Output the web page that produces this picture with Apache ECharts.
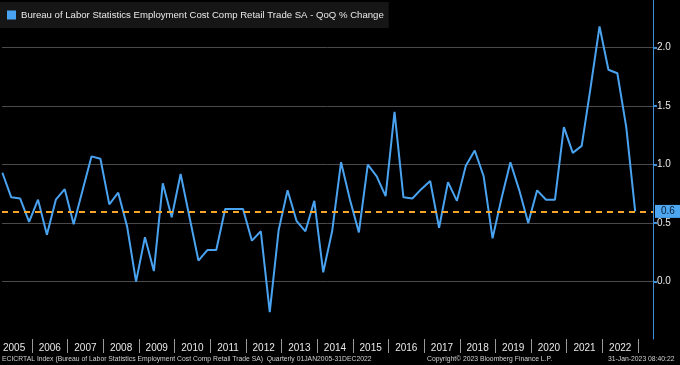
<!DOCTYPE html>
<html><head><meta charset="utf-8">
<script src="https://cdn.jsdelivr.net/npm/echarts@6/dist/echarts.min.js"></script>
<style>html,body{margin:0;padding:0;background:#000}#c{width:680px;height:365px}</style>
</head><body><div id="c"></div>
<script>
const years = [2005,2006,2007,2008,2009,2010,2011,2012,2013,2014,2015,2016,2017,2018,2019,2020,2021,2022];
// quarterly QoQ % change, Q1..Q4 per year
const values = [
  0.93, 0.72, 0.71, 0.51,
  0.70, 0.40, 0.70, 0.79,
  0.49, 0.78, 1.07, 1.05,
  0.66, 0.76, 0.47, 0.00,
  0.38, 0.09, 0.84, 0.55,
  0.92, 0.55, 0.18, 0.27,
  0.27, 0.62, 0.62, 0.62,
  0.35, 0.43, -0.26, 0.44,
  0.78, 0.52, 0.43, 0.69,
  0.08, 0.43, 1.02, 0.70,
  0.42, 1.00, 0.90, 0.73,
  1.45, 0.72, 0.71, 0.79,
  0.86, 0.46, 0.85, 0.69,
  0.99, 1.12, 0.90, 0.37,
  0.71, 1.02, 0.78, 0.50,
  0.78, 0.70, 0.70, 1.32,
  1.10, 1.16, 1.66, 2.18,
  1.81, 1.78, 1.32, 0.60
];
const yTickValues = [0.0, 0.5, 1.0, 1.5, 2.0];
const lastValue = 0.6;
const seriesName = 'Bureau of Labor Statistics Employment Cost Comp Retail Trade SA - QoQ % Change';

const FONT = '"Liberation Sans",Arial,sans-serif';
const points = values.map((v, i) => [years[Math.floor(i / 4)] + (i % 4) * 0.25 + 0.17, v]);
const yearBoundaries = years.map(y => y + 1);
const yearLabelPos = years.map(y => y + 0.5);

const chart = echarts.init(document.getElementById('c'));
chart.setOption({
  backgroundColor: '#000',
  animation: false,
  grid: {left: 0, right: 27, top: 0, bottom: 26, containLabel: false},
  legend: {
    show: true, left: 0, top: 2, data: [seriesName], icon: 'rect',
    itemWidth: 9, itemHeight: 9, backgroundColor: '#161616',
    padding: [8, 5, 8, 7],
    textStyle: {color: '#e8e8e8', fontFamily: FONT, fontSize: 9.6}
  },
  xAxis: {
    type: 'value', min: 2005.16, max: 2023.42,
    axisLine: {show: false, onZero: false}, splitLine: {show: false},
    axisTick: {show: true, customValues: yearBoundaries, length: 14, lineStyle: {color: '#9a9a9a'}},
    axisLabel: {customValues: yearLabelPos, formatter: v => String(Math.floor(v)),
      color: '#e8e8e8', fontFamily: FONT, fontSize: 10, margin: 4}
  },
  yAxis: {
    type: 'value', position: 'right', min: -0.49, max: 2.406,
    axisLine: {show: true, lineStyle: {color: '#3d8fd8'}},
    axisTick: {show: true, customValues: yTickValues, length: 4, lineStyle: {color: '#3d8fd8', width: 2}},
    axisLabel: {customValues: yTickValues, formatter: v => v.toFixed(1),
      color: '#e8e8e8', fontFamily: FONT, fontSize: 10, margin: 4},
    splitLine: {show: true, lineStyle: {color: '#4a4a4a', width: 1}}
  },
  series: [{
    name: seriesName, type: 'line', data: points, showSymbol: false,
    lineStyle: {color: '#4aa3f0', width: 2}, itemStyle: {color: '#4aa3f0'},
    markLine: {
      symbol: 'none', silent: true, animation: false,
      data: [{yAxis: lastValue}],
      lineStyle: {color: '#f5a52a', type: [6, 5], width: 2},
      label: {show: true, position: 'end', formatter: String(lastValue),
        color: '#0d1a2e', backgroundColor: '#4da6f0', padding: [2, 6, 1, 6],
        fontFamily: FONT, fontSize: 10, distance: 2}
    }
  }],
  graphic: [
    {type: 'text', x: 2, y: 355, scaleX: 0.85, style: {text: 'ECICRTAL Index (Bureau of Labor Statistics Employment Cost Comp Retail Trade SA)  Quarterly 01JAN2005-31DEC2022', fill: '#d0d0d0', font: '8px ' + FONT}},
    {type: 'text', x: 427, y: 355, scaleX: 0.85, style: {text: 'Copyright© 2023 Bloomberg Finance L.P.', fill: '#d0d0d0', font: '8px ' + FONT}},
    {type: 'text', x: 608, y: 355, scaleX: 0.85, style: {text: '31-Jan-2023 08:40:22', fill: '#d0d0d0', font: '8px ' + FONT}}
  ]
});
</script>
</body></html>
